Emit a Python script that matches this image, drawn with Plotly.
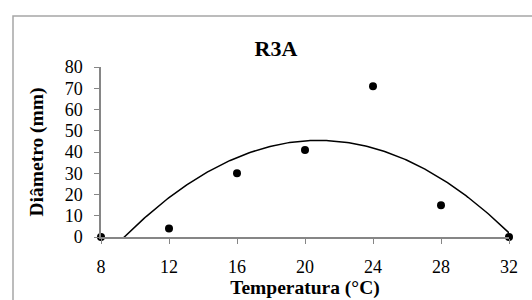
import numpy as np
import plotly.graph_objects as go

temperatura = [8, 12, 16, 20, 24, 28, 32]
diametro = [0, 4, 30, 41, 71, 15, 0]
x_ticks = [8, 12, 16, 20, 24, 28, 32]
y_ticks = [0, 10, 20, 30, 40, 50, 60, 70, 80]

# Polynomial (order 2) trendline, as in the original chart
coef = np.polyfit(temperatura, diametro, 2)
xt = np.linspace(8, 32, 200)
yt = np.polyval(coef, xt)

FONT = "Liberation Serif"

fig = go.Figure()
fig.add_trace(go.Scatter(x=xt, y=yt, mode="lines",
                         line=dict(color="black", width=1.5),
                         hoverinfo="skip", showlegend=False))
fig.add_trace(go.Scatter(x=temperatura, y=diametro, mode="markers",
                         marker=dict(color="black", size=8),
                         cliponaxis=False, showlegend=False))

L, R, T, B = 101, 23, 67, 63
W, H = 532, 300
pw, ph = W - L - R, H - T - B

def px(x):
    return (x - L) / pw

def py(y):
    return (H - B - y) / ph

fig.add_shape(type="rect", xref="paper", yref="paper",
              x0=px(13), x1=px(545), y0=py(16), y1=py(310),
              line=dict(color="#a6a6a6", width=1.5), layer="below")

fig.update_layout(
    width=W, height=H,
    margin=dict(l=L, r=R, t=T, b=B, autoexpand=False),
    paper_bgcolor="white", plot_bgcolor="white",
    font=dict(family=FONT, size=18, color="black"),
    title=dict(text="<b>R3A</b>", x=276 / W, xanchor="center",
               y=1 - 48 / H, yanchor="middle", automargin=False,
               font=dict(family=FONT, size=22, color="black")),
)
fig.update_xaxes(range=[8, 32], tickvals=x_ticks, ticktext=[str(v) for v in x_ticks],
                 showline=True, linecolor="#868686", linewidth=1.5,
                 ticks="outside", ticklen=5, tickcolor="#868686",
                 showgrid=False, zeroline=False, ticklabelstandoff=8,
                 automargin=False,
                 title=dict(text="<b>Temperatura (°C)</b>", standoff=4,
                            font=dict(family=FONT, size=19.5)))
fig.update_yaxes(range=[0, 80], tickvals=y_ticks, ticktext=[str(v) for v in y_ticks],
                 showline=True, linecolor="#868686", linewidth=1.5,
                 ticks="outside", ticklen=5, tickcolor="#868686",
                 showgrid=False, zeroline=False, ticklabelstandoff=8,
                 automargin=False,
                 title=dict(text="<b>Diâmetro (mm)</b>", standoff=16,
                            font=dict(family=FONT, size=19.5)))

fig.write_html("out.html", config={"displayModeBar": False},
               post_script="document.body.style.margin='0px';")
